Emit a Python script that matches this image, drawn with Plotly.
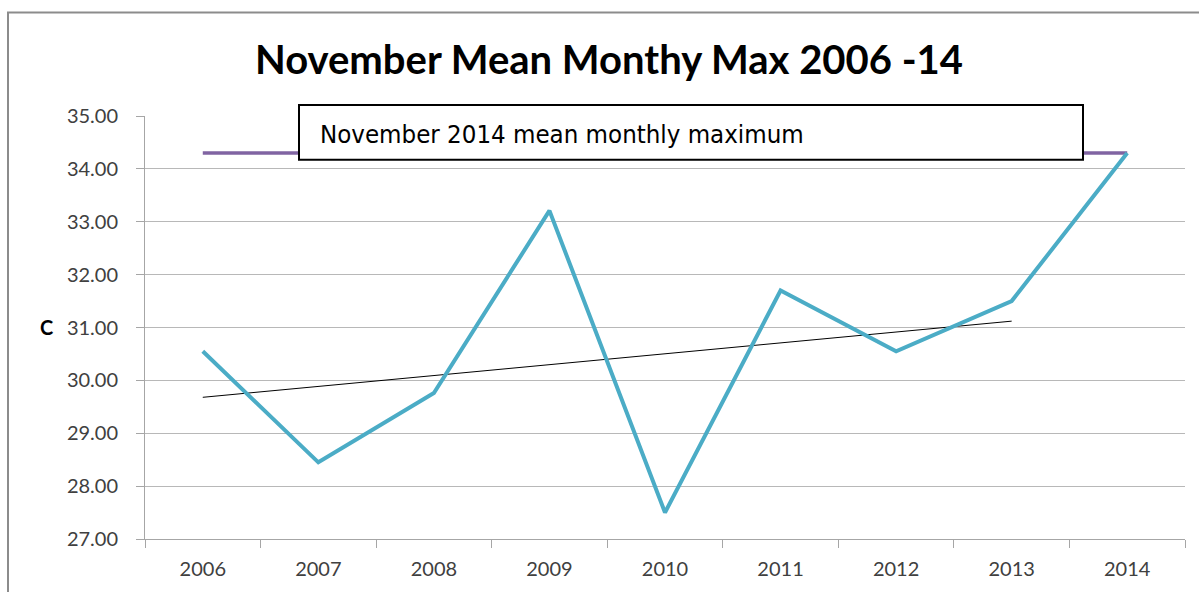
import plotly.graph_objects as go

years = ["2006", "2007", "2008", "2009", "2010", "2011", "2012", "2013", "2014"]
mean_max = [30.55, 28.45, 29.76, 33.21, 27.50, 31.70, 30.55, 31.50, 34.30]
nov2014_level = [34.30] * len(years)
trend_years = ["2006", "2013"]
trend_values = [29.68, 31.12]

y_ticks = [27, 28, 29, 30, 31, 32, 33, 34, 35]

W, H = 1199, 592
L, R, T, B = 145, 14, 116, 51
pw, ph = W - L - R, H - T - B

def px_x(x):
    return (x - L) / pw

def px_y(y):
    return (H - B - y) / ph

fig = go.Figure()
fig.add_trace(go.Scatter(x=years, y=nov2014_level, mode="lines",
                         line=dict(color="#8064A2", width=3.5), hoverinfo="skip"))
fig.add_trace(go.Scatter(x=trend_years, y=trend_values, mode="lines",
                         line=dict(color="#000000", width=1)))
fig.add_trace(go.Scatter(x=years, y=mean_max, mode="lines",
                         line=dict(color="#4BACC6", width=4)))

grey = "#a6a6a6"
fig.update_layout(
    width=W, height=H, autosize=False,
    margin=dict(l=L, r=R, t=T, b=B),
    paper_bgcolor="white", plot_bgcolor="white",
    showlegend=False,
    title=dict(text="<b>November Mean Monthy Max 2006 -14</b>",
               x=609 / W, xref="container", xanchor="center",
               y=1 - 60 / H, yref="container", yanchor="middle",
               font=dict(family="Lato", size=40, color="#000000")),
    xaxis=dict(type="category", categoryorder="array", categoryarray=years,
               range=[-0.5, 8.5], tickson="boundaries", ticks="outside", ticklen=8,
               tickcolor=grey, showline=True, linecolor=grey, linewidth=1,
               showgrid=False, zeroline=False, ticklabelstandoff=12,
               tickfont=dict(family="Lato", size=20, color="#404040")),
    yaxis=dict(range=[27, 35], tickvals=y_ticks, tickformat=".2f",
               ticks="outside", ticklen=8, tickcolor=grey,
               showline=True, linecolor=grey, linewidth=1,
               showgrid=True, gridcolor="#b8b8b8", gridwidth=1, zeroline=False,
               ticklabelstandoff=14,
               tickfont=dict(family="Lato", size=20, color="#404040")),
    shapes=[
        dict(type="rect", xref="paper", yref="paper",
             x0=px_x(299), x1=px_x(1083), y0=px_y(160), y1=px_y(105),
             fillcolor="white", line=dict(color="black", width=2), layer="above"),
        dict(type="rect", xref="paper", yref="paper",
             x0=px_x(8), x1=px_x(1250), y0=px_y(640), y1=px_y(12),
             fillcolor="rgba(0,0,0,0)", line=dict(color="#8c8c8c", width=2), layer="above"),
    ],
    annotations=[
        dict(text="November 2014 mean monthly maximum", xref="paper", yref="paper",
             x=px_x(318), y=px_y(134), xanchor="left", yanchor="middle",
             showarrow=False, font=dict(family="DejaVu Sans Condensed", size=25.6, color="#000000")),
        dict(text="<b>C</b>", xref="paper", yref="paper",
             x=px_x(46), y=px_y(328), xanchor="center", yanchor="middle",
             showarrow=False, font=dict(family="Lato", size=20, color="#000000")),
    ],
)

fig.write_html("out.html", config={"displayModeBar": False},
               post_script="document.body.style.margin='0';document.body.style.overflow='hidden';")
